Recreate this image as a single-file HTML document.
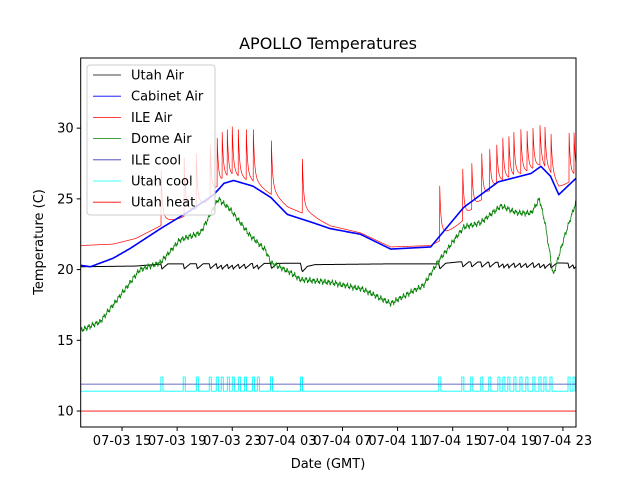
<!DOCTYPE html>
<html><head><meta charset="utf-8"><style>
body{margin:0;background:#fff}
svg text{font-family:"DejaVu Sans","Liberation Sans",sans-serif;fill:#000}
</style></head><body>
<svg id="chart" width="640" height="480" xmlns="http://www.w3.org/2000/svg">
<rect width="640" height="480" fill="#fff"/>
<text x="328" y="49" font-size="16" text-anchor="middle">APOLLO Temperatures</text>
<text x="328" y="468" font-size="13" text-anchor="middle">Date (GMT)</text>
<text transform="translate(43,242) rotate(-90)" font-size="13" text-anchor="middle">Temperature (C)</text>
<g id="plot"></g>
<g id="axes"></g>
<g id="legend"></g>
</svg>
<script>
const xTickHours=[15,19,23,27,31,35,39,43,47];
const xTickLabels=["07-03 15","07-03 19","07-03 23","07-04 03","07-04 07","07-04 11","07-04 15","07-04 19","07-04 23"];
const yTicks=[10,15,20,25,30];
const cabinetAir=[[12,20.3],[12.7,20.2],[14.35,20.8],[15.6,21.5],[17.8,22.9],[20,24.2],[21.66,25.3],[22.4,26.1],[23.1,26.3],[24.5,25.9],[25.8,25.1],[27,23.9],[28.9,23.3],[30.1,22.9],[32.3,22.5],[34.5,21.45],[37.4,21.6],[39.8,24.4],[42.3,26.2],[44.7,26.8],[45.4,27.3],[46.1,26.6],[46.7,25.3],[48,26.5]];
const domeAir=[[12,15.7],[13.4,16.3],[14.9,18.2],[16.3,20],[17.8,20.5],[19.2,22.1],[20.7,22.6],[21.4,23.9],[22,25],[22.9,24.2],[24.3,22.4],[25.4,21.4],[25.8,20.5],[27.2,19.8],[27.95,19.3],[30.1,19.1],[32.5,18.6],[34.5,17.6],[36.9,18.9],[37.9,20.5],[39.8,23],[41,23.3],[42.5,24.5],[43.7,24.0],[44.7,24.0],[45.3,25],[45.7,23.3],[46.3,19.6],[47.1,22.3],[48,24.9]];
const ileBase=[[12,21.7],[14.35,21.8],[16,22.2],[17.8,23.1],[19.2,23.6],[21,24.5],[22.4,26.2],[23.1,26.4],[24.5,26.0],[25.8,25.3],[27,24.4],[28.9,23.7],[30.1,23.1],[32.3,22.6],[34.5,21.6],[37.4,21.7],[38,22.0],[39.8,23.5],[42.3,26.0],[44.7,26.8],[45.4,27.2],[46.1,26.6],[46.7,25.7],[48,26.5]];
const spikeTimes=[17.84,19.51,20.39,21.40,21.91,22.27,22.64,23.0,23.44,24.02,24.53,25.84,28.09,38.06,39.73,40.39,41.11,41.69,42.2,42.64,43.08,43.44,43.95,44.39,44.82,45.33,45.69,46.13,47.44,47.8];
const spikePeaks=[27,27.9,28.2,28.8,29.3,29.7,29.9,30.1,29.9,29.9,29.9,29.1,27.8,25.9,27.1,27.5,28.2,28.5,28.8,29.3,29.4,29.7,29.9,30.1,30.3,30.5,30.4,29.9,30.0,30.0];
const utahAirBase=[[12,20.2],[16,20.25],[18,20.4],[28,20.45],[28.1,20.15],[29,20.35],[34,20.4],[38,20.4],[39.5,20.55],[48,20.45]];
const coolPulses=[17.82,19.44,20.39,21.33,21.84,22.2,22.64,23.0,23.44,23.88,24.46,24.82,25.77,27.95,37.99,39.66,40.31,41.04,41.62,42.28,42.64,43.0,43.44,43.88,44.31,44.82,45.26,45.62,46.06,47.37,47.73];
const ileCool=11.9, utahCoolLow=11.4, utahCoolHigh=12.4, utahHeat=10.0;

const L=80.7,R=576,T=58,B=427,h0=12,h1=47.95,v0=8.87,v1=34.96;
const X=h=>L+(h-h0)/(h1-h0)*(R-L);
const Y=v=>B-(v-v0)/(v1-v0)*(B-T);
const NS="http://www.w3.org/2000/svg";
function mk(tag,attrs,parent){const e=document.createElementNS(NS,tag);for(const k in attrs)e.setAttribute(k,attrs[k]);parent.appendChild(e);return e;}
function interp(arr,h){if(h<=arr[0][0])return arr[0][1];for(let i=1;i<arr.length;i++){if(h<=arr[i][0]){const a=arr[i-1],b=arr[i];return a[1]+(b[1]-a[1])*(h-a[0])/(b[0]-a[0]);}}return arr[arr.length-1][1];}
const plot=document.getElementById('plot');
const clip=mk('clipPath',{id:'clp'},mk('defs',{},plot));
mk('rect',{x:L,y:T,width:R-L,height:B-T},clip);
const g=mk('g',{'clip-path':'url(#clp)'},plot);
function poly(pts,color,w,name){const p=mk('polyline',{points:pts.map(p=>X(p[0]).toFixed(2)+','+Y(p[1]).toFixed(2)).join(' '),fill:'none',stroke:color,'stroke-width':w,'stroke-linejoin':'round'},g);

return p;}
poly([[h0,utahHeat],[48.5,utahHeat]],'#ff0000',0.9,'utah-heat-line');
let cp=[[h0,utahCoolLow]];
coolPulses.forEach(t=>{cp.push([t,utahCoolLow],[t,utahCoolHigh],[t+0.15,utahCoolHigh],[t+0.15,utahCoolLow]);});
cp.push([48.5,utahCoolLow]);
poly(cp,'#00ffff',0.9,'utah-cool-line');
poly([[h0,ileCool],[48.5,ileCool]],'#3b3bb0',0.8,'ile-cool-line');
let ua=[];
for(let h=h0;h<=48;h+=0.02){let v=interp(utahAirBase,h);
 coolPulses.forEach(t=>{if(h>=t&&h<t+0.5){const d=h-t;v-=d<0.08?0.35*d/0.08:0.35*(1-(d-0.08)/0.42);}});
 ua.push([h,v]);}
poly(ua,'#000',1,'utah-air-line');
let da=[];for(let h=h0;h<=48;h+=0.02){da.push([h,interp(domeAir,h)+0.12*Math.sin(h*23.1)+0.08*Math.sin(h*57.3+1)+0.05*Math.sin(h*131.7)]);}
poly(da,'#008000',0.8,'dome-air-line');
let ia=[];
for(let h=h0;h<=48;h+=0.01){let v=interp(ileBase,h);let add=0;
 spikeTimes.forEach((t,i)=>{if(h>=t&&h<t+2){const b=interp(ileBase,t);add=Math.max(add,(spikePeaks[i]-b)*(0.75*Math.exp(-(h-t)/0.08)+0.25*Math.exp(-(h-t)/0.4)));}});
 ia.push([h,v+add]);}
poly(ia,'#ff0000',0.7,'ile-air-line');
let ca=[];for(let h=h0;h<=48;h+=0.05)ca.push([h,interp(cabinetAir,h)]);
poly(ca,'#0000ff',1.6,'cabinet-air-line');
const ax=document.getElementById('axes');
mk('rect',{x:L,y:T,width:R-L,height:B-T,fill:'none',stroke:'#000','stroke-width':1},ax);
xTickHours.forEach((h,i)=>{const x=X(h);mk('line',{x1:x,x2:x,y1:B,y2:B+4,stroke:'#000'},ax);
 const t=mk('text',{x:x,y:B+18,'font-size':13,'text-anchor':'middle'},ax);t.textContent=xTickLabels[i];
 
 });
yTicks.forEach(v=>{const y=Y(v);mk('line',{x1:L-4,x2:L,y1:y,y2:y,stroke:'#000'},ax);
 const t=mk('text',{x:L-7,y:y+4.5,'font-size':13,'text-anchor':'end'},ax);t.textContent=v;
 
 });
const lg=document.getElementById('legend');
mk('rect',{x:87,y:65,width:128,height:150,rx:3,fill:'#fff','fill-opacity':0.8,stroke:'#ccc'},lg);
const names=["Utah Air","Cabinet Air","ILE Air","Dome Air","ILE cool","Utah cool","Utah heat"];
const cols=["#000","#0000ff","#ff0000","#008000","#3b3bb0","#00ffff","#ff0000"];
names.forEach((n,i)=>{const y=75+i*21.2;
 const e=mk('g',{},lg);
 
 
 mk('line',{x1:93,x2:121,y1:y,y2:y,stroke:cols[i],'stroke-width':0.8},e);
 const t=mk('text',{x:131,y:y+4.5,'font-size':13},e);t.textContent=n;});
</script>
</body></html>
